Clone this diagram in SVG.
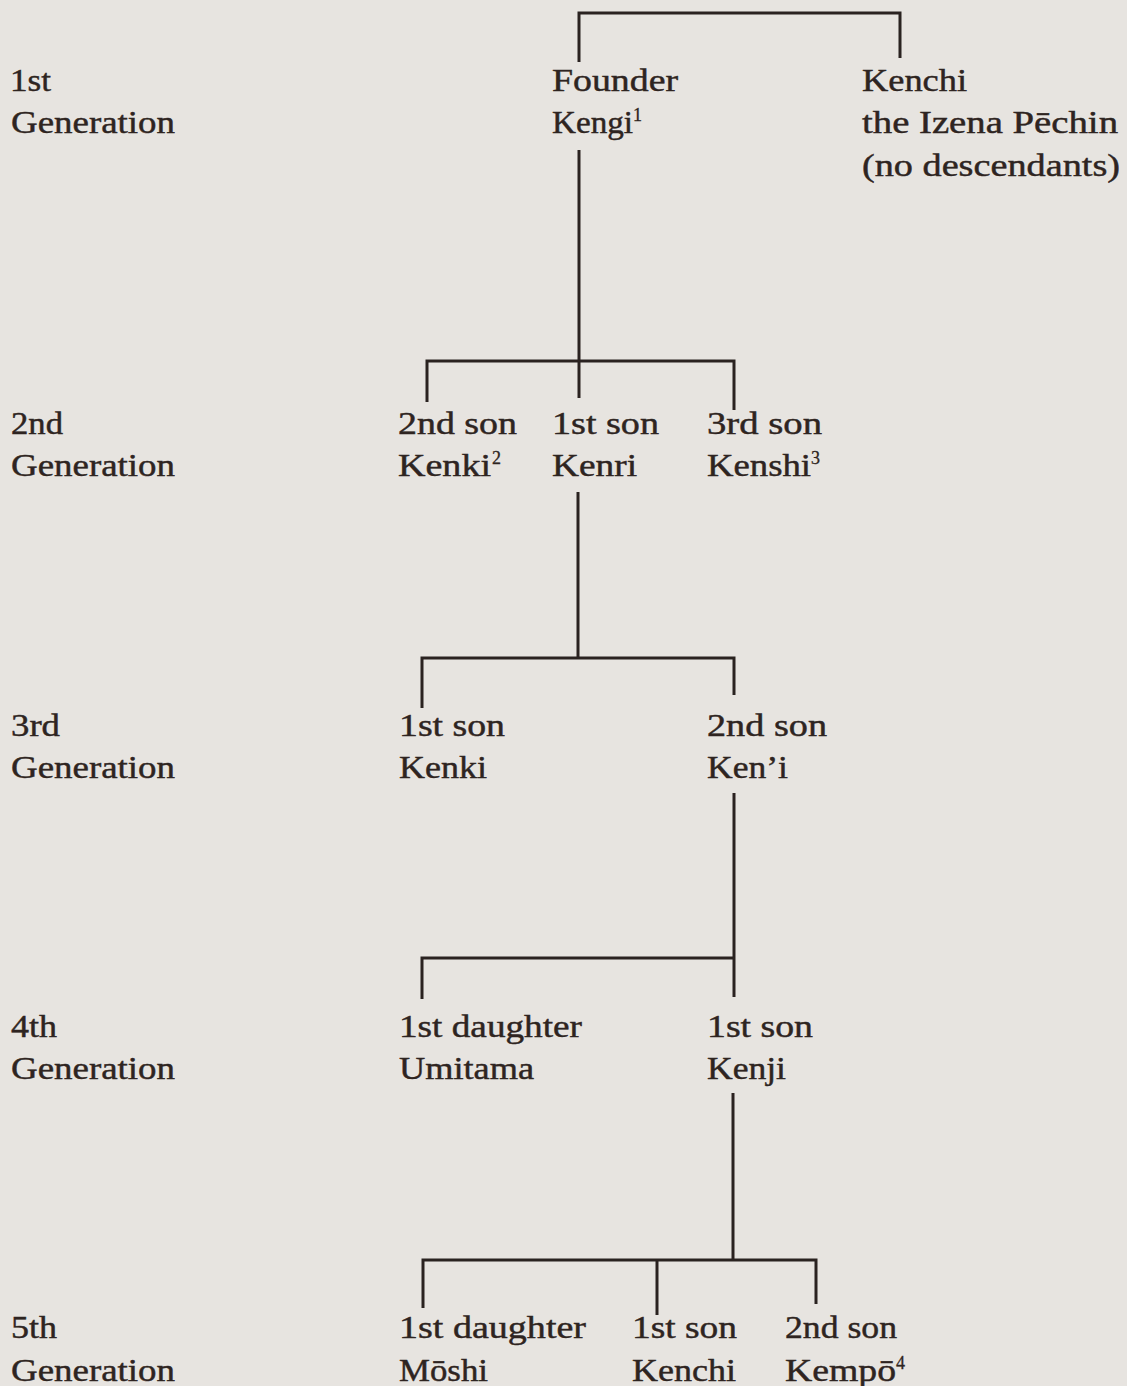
<svg xmlns="http://www.w3.org/2000/svg" width="1127" height="1386" viewBox="0 0 1127 1386">
<style>
text{font-family:"Liberation Serif","Times New Roman",serif;font-size:32px;fill:#2e2421;stroke:#2e2421;stroke-width:0.45px;}
text.sup{font-size:18px;stroke-width:0.3px;}
.ln{fill:none;stroke:#2a2220;stroke-width:3;stroke-linecap:butt;stroke-linejoin:miter;}
</style>
<rect width="1127" height="1386" fill="#e7e4e0"/>
<g id="connectors">
<path class="ln" d="M579,62 V13 H900 V58"/>
<path class="ln" d="M579,150 V398"/>
<path class="ln" d="M427,402 V361 H734 V410"/>
<path class="ln" d="M578,492 V658"/>
<path class="ln" d="M422,708 V658 H734 V695"/>
<path class="ln" d="M734,793 V997"/>
<path class="ln" d="M422,999 V958 H734"/>
<path class="ln" d="M733,1093 V1260"/>
<path class="ln" d="M423,1308 V1260 H816 V1304"/>
<path class="ln" d="M657,1260 V1315"/>
</g>
<g id="gen1-label"><text x="10" y="91" textLength="41" lengthAdjust="spacingAndGlyphs">1st</text><text x="11" y="133" textLength="164" lengthAdjust="spacingAndGlyphs">Generation</text></g>
<g id="gen2-label"><text x="11" y="434" textLength="52" lengthAdjust="spacingAndGlyphs">2nd</text><text x="11" y="476" textLength="164" lengthAdjust="spacingAndGlyphs">Generation</text></g>
<g id="gen3-label"><text x="11" y="736" textLength="49" lengthAdjust="spacingAndGlyphs">3rd</text><text x="11" y="778" textLength="164" lengthAdjust="spacingAndGlyphs">Generation</text></g>
<g id="gen4-label"><text x="11" y="1037" textLength="46" lengthAdjust="spacingAndGlyphs">4th</text><text x="11" y="1079" textLength="164" lengthAdjust="spacingAndGlyphs">Generation</text></g>
<g id="gen5-label"><text x="11" y="1338" textLength="46" lengthAdjust="spacingAndGlyphs">5th</text><text x="11" y="1381" textLength="164" lengthAdjust="spacingAndGlyphs">Generation</text></g>
<g id="founder-kengi"><text x="552" y="91" textLength="126" lengthAdjust="spacingAndGlyphs">Founder</text><text x="552" y="133" textLength="81" lengthAdjust="spacingAndGlyphs">Kengi</text><text class="sup" x="633" y="121">1</text></g>
<g id="kenchi-izena"><text x="862" y="91" textLength="105" lengthAdjust="spacingAndGlyphs">Kenchi</text><text x="862" y="133" textLength="256" lengthAdjust="spacingAndGlyphs">the Izena Pēchin</text><text x="862" y="176" textLength="258" lengthAdjust="spacingAndGlyphs">(no descendants)</text></g>
<g id="kenki-2nd"><text x="398" y="434" textLength="119" lengthAdjust="spacingAndGlyphs">2nd son</text><text x="398" y="476" textLength="93" lengthAdjust="spacingAndGlyphs">Kenki</text><text class="sup" x="492" y="464">2</text></g>
<g id="kenri"><text x="552" y="434" textLength="107" lengthAdjust="spacingAndGlyphs">1st son</text><text x="552" y="476" textLength="85" lengthAdjust="spacingAndGlyphs">Kenri</text></g>
<g id="kenshi"><text x="707" y="434" textLength="115" lengthAdjust="spacingAndGlyphs">3rd son</text><text x="707" y="476" textLength="104" lengthAdjust="spacingAndGlyphs">Kenshi</text><text class="sup" x="811" y="464">3</text></g>
<g id="kenki-3rd"><text x="399" y="736" textLength="106" lengthAdjust="spacingAndGlyphs">1st son</text><text x="399" y="778" textLength="88" lengthAdjust="spacingAndGlyphs">Kenki</text></g>
<g id="keni"><text x="707" y="736" textLength="120" lengthAdjust="spacingAndGlyphs">2nd son</text><text x="707" y="778" textLength="81" lengthAdjust="spacingAndGlyphs">Ken’i</text></g>
<g id="umitama"><text x="399" y="1037" textLength="183" lengthAdjust="spacingAndGlyphs">1st daughter</text><text x="399" y="1079" textLength="135" lengthAdjust="spacingAndGlyphs">Umitama</text></g>
<g id="kenji"><text x="707" y="1037" textLength="106" lengthAdjust="spacingAndGlyphs">1st son</text><text x="707" y="1079" textLength="79" lengthAdjust="spacingAndGlyphs">Kenji</text></g>
<g id="moshi"><text x="399" y="1338" textLength="187" lengthAdjust="spacingAndGlyphs">1st daughter</text><text x="399" y="1381" textLength="89" lengthAdjust="spacingAndGlyphs">Mōshi</text></g>
<g id="kenchi-5th"><text x="632" y="1338" textLength="105" lengthAdjust="spacingAndGlyphs">1st son</text><text x="632" y="1381" textLength="104" lengthAdjust="spacingAndGlyphs">Kenchi</text></g>
<g id="kempo"><text x="785" y="1338" textLength="112" lengthAdjust="spacingAndGlyphs">2nd son</text><text x="785" y="1381" textLength="111" lengthAdjust="spacingAndGlyphs">Kempō</text><text class="sup" x="896" y="1369">4</text></g>
</svg>
